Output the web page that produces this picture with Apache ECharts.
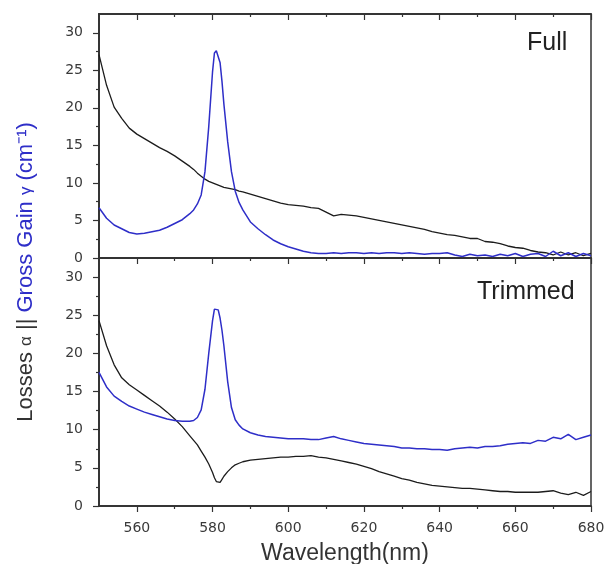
<!DOCTYPE html>
<html>
<head>
<meta charset="utf-8">
<script src="https://cdn.jsdelivr.net/npm/echarts@6/dist/echarts.min.js"></script>
<style>
  html, body { margin: 0; padding: 0; background: #fff; }
  #chart { width: 606px; height: 564px; }
</style>
</head>
<body>
<div id="chart"></div>
<script>
const wavelength = [550, 552, 554, 556, 558, 560, 562, 564, 566, 568, 570, 572, 574, 575, 576, 577, 578, 579, 580, 580.5,
  581, 581.5, 582, 582.5, 583, 584, 585, 586, 587, 588, 590, 592, 594, 596, 598, 600, 602, 604, 606, 608,
  610, 612, 614, 616, 618, 620, 622, 624, 626, 628, 630, 632, 634, 636, 638, 640, 642, 644, 646, 648,
  650, 652, 654, 656, 658, 660, 662, 664, 666, 668, 670, 672, 674, 676, 678, 680];

// Full sample (top panel)
const lossFull = [27.1, 23.0, 20.1, 18.6, 17.3, 16.5, 15.9, 15.3, 14.7, 14.2, 13.6, 12.9, 12.2, 11.8, 11.3, 10.9, 10.5, 10.2, 10.0, 9.9,
  9.8, 9.7, 9.6, 9.5, 9.4, 9.3, 9.2, 9.1, 8.9, 8.8, 8.5, 8.2, 7.9, 7.6, 7.3, 7.1, 7.0, 6.9, 6.7, 6.6,
  6.1, 5.6, 5.8, 5.7, 5.6, 5.4, 5.2, 5.0, 4.8, 4.6, 4.4, 4.2, 4.0, 3.8, 3.5, 3.3, 3.1, 3.0, 2.8, 2.6,
  2.6, 2.2, 2.1, 1.9, 1.6, 1.4, 1.3, 1.0, 0.8, 0.7, 0.4, 0.8, 0.4, 0.7, 0.3, 0.6];
const gainFull = [6.7, 5.3, 4.4, 3.9, 3.4, 3.2, 3.3, 3.5, 3.7, 4.1, 4.6, 5.1, 5.9, 6.4, 7.2, 8.4, 11.5, 17.5, 24.8, 27.3,
  27.6, 27.5, 26.0, 23.5, 20.5, 15.5, 11.5, 8.9, 7.4, 6.4, 4.8, 3.9, 3.1, 2.4, 1.9, 1.5, 1.2, 0.9, 0.7, 0.6,
  0.6, 0.7, 0.6, 0.7, 0.7, 0.6, 0.7, 0.6, 0.7, 0.7, 0.6, 0.7, 0.6, 0.5, 0.6, 0.6, 0.7, 0.4, 0.2, 0.5,
  0.3, 0.4, 0.2, 0.5, 0.3, 0.6, 0.2, 0.5, 0.6, 0.2, 0.9, 0.3, 0.7, 0.2, 0.6, 0.3];

// Trimmed sample (bottom panel)
const lossTrim = [24.3, 21.0, 18.5, 16.8, 15.9, 15.2, 14.5, 13.8, 13.1, 12.3, 11.4, 10.4, 9.2, 8.6, 8.0, 7.2, 6.4, 5.5, 4.4, 3.7,
  3.2, 3.0, 3.1, 3.5, 3.9, 4.5, 5.0, 5.4, 5.6, 5.8, 6.0, 6.1, 6.2, 6.3, 6.4, 6.4, 6.5, 6.5, 6.6, 6.4,
  6.3, 6.1, 5.9, 5.7, 5.5, 5.2, 4.9, 4.5, 4.2, 3.9, 3.6, 3.4, 3.1, 2.9, 2.7, 2.6, 2.5, 2.4, 2.3, 2.3,
  2.2, 2.1, 2.0, 1.9, 1.9, 1.8, 1.8, 1.8, 1.8, 1.9, 2.0, 1.7, 1.5, 1.8, 1.4, 1.9];
const gainTrim = [17.5, 15.6, 14.4, 13.7, 13.1, 12.7, 12.3, 12.0, 11.7, 11.4, 11.2, 11.1, 11.1, 11.2, 11.6, 12.6, 15.3, 20.0, 24.3, 25.8,
  26.0, 25.7, 24.6, 23.0, 21.0, 16.3, 12.9, 11.3, 10.6, 10.1, 9.6, 9.3, 9.1, 9.0, 8.9, 8.8, 8.8, 8.8, 8.7, 8.7,
  8.9, 9.1, 8.8, 8.6, 8.4, 8.2, 8.1, 8.0, 7.9, 7.8, 7.6, 7.6, 7.5, 7.5, 7.4, 7.4, 7.3, 7.5, 7.6, 7.7,
  7.6, 7.8, 7.8, 7.9, 8.1, 8.2, 8.3, 8.2, 8.6, 8.5, 9.0, 8.8, 9.4, 8.7, 9.0, 9.3];

const xMajor = [560, 580, 600, 620, 640, 660, 680];
const xMinor = [570, 590, 610, 630, 650, 670];
const yMajor = [0, 5, 10, 15, 20, 25, 30];
const yMinor = [2.5, 7.5, 12.5, 17.5, 22.5, 27.5];

const axisColor = '#333';
const labelColor = '#3a3a3a';
const blue = '#2e2ec8';
const black = '#1c1c1c';

const chart = echarts.init(document.getElementById('chart'));

function xAxisFor(grid, position, ticks, len, inside, withLabels) {
  return {
    type: 'value', gridIndex: grid, position: position, min: 550, max: 680,
    axisLine: { show: true, onZero: false, lineStyle: { color: axisColor, width: 1.5 } },
    axisTick: { show: true, inside: inside, length: len, customValues: ticks, lineStyle: { color: axisColor, width: 1.2 } },
    axisLabel: withLabels
      ? { show: true, customValues: ticks, color: labelColor, fontFamily: 'DejaVu Sans', fontSize: 14, margin: 15 }
      : { show: false },
    splitLine: { show: false },
  };
}

function yAxisFor(grid, ticks, len, withLabels) {
  return {
    type: 'value', gridIndex: grid, position: 'left', min: 0, max: 32.5,
    axisLine: { show: true, onZero: false, lineStyle: { color: axisColor, width: 1.5 } },
    axisTick: { show: true, inside: false, length: len, customValues: ticks, lineStyle: { color: axisColor, width: 1.2 } },
    axisLabel: withLabels
      ? { show: true, customValues: ticks, color: labelColor, fontFamily: 'DejaVu Sans', fontSize: 14, margin: 16 }
      : { show: false },
    splitLine: { show: false },
  };
}

const bottomX = xAxisFor(1, 'bottom', xMajor, 6, false, true);
bottomX.name = 'Wavelength(nm)';
bottomX.nameLocation = 'middle';
bottomX.nameGap = 36;
bottomX.nameTextStyle = { color: '#333', fontFamily: 'Liberation Sans', fontSize: 23 };

const pairs = (vals) => wavelength.map((w, i) => [w, vals[i]]);
const line = (name, vals, color, xi, yi, width) => ({
  name, type: 'line', data: pairs(vals), xAxisIndex: xi, yAxisIndex: yi,
  showSymbol: false, symbol: 'none', smooth: false,
  lineStyle: { color: color, width: width }, itemStyle: { color: color },
  z: 3, animation: false,
});

const option = {
  animation: false,
  backgroundColor: '#fff',
  grid: [
    { left: 99, top: 14, width: 492, height: 244, show: true, borderColor: axisColor, borderWidth: 1.5, outerBoundsMode: 'none' },
    { left: 99, top: 258, width: 492, height: 248, show: true, borderColor: axisColor, borderWidth: 1.5, outerBoundsMode: 'none' },
  ],
  xAxis: [
    xAxisFor(0, 'bottom', xMajor, 6, false, false),
    xAxisFor(0, 'bottom', xMinor, 3, false, false),
    xAxisFor(0, 'top', xMajor, 6, true, false),
    xAxisFor(0, 'top', xMinor, 3, true, false),
    bottomX,
    xAxisFor(1, 'bottom', xMinor, 3, false, false),
  ],
  yAxis: [
    yAxisFor(0, yMajor, 6, true),
    yAxisFor(0, yMinor, 3, false),
    yAxisFor(1, yMajor, 6, true),
    yAxisFor(1, yMinor, 3, false),
  ],
  series: [
    line('Losses Full', lossFull, black, 0, 0, 1.3),
    line('Gain Full', gainFull, blue, 0, 0, 1.5),
    line('Losses Trimmed', lossTrim, black, 4, 2, 1.3),
    line('Gain Trimmed', gainTrim, blue, 4, 2, 1.5),
  ],
  graphic: [
    {
      type: 'text', left: 527, top: 31,
      style: { text: 'Full', fill: '#222', font: '25px "Liberation Sans"' },
    },
    {
      type: 'text', left: 477, top: 280,
      style: { text: 'Trimmed', fill: '#222', font: '25px "Liberation Sans"' },
    },
    {
      type: 'text', x: 26, y: 272, rotation: Math.PI / 2,
      style: {
        text: '{k|Losses }{kg|α}{k| || }{b|Gross Gain }{bg|γ}{b| (cm⁻¹)}',
        align: 'center', verticalAlign: 'middle',
        rich: {
          k: { fill: '#333', fontFamily: 'Liberation Sans', fontSize: 22 },
          kg: { fill: '#333', fontFamily: 'Liberation Sans', fontSize: 17 },
          b: { fill: blue, fontFamily: 'Liberation Sans', fontSize: 22 },
          bg: { fill: blue, fontFamily: 'Liberation Sans', fontSize: 17 },
        },
      },
    },
  ],
};

chart.setOption(option);
window.addEventListener('resize', () => chart.resize());
</script>
</body>
</html>
